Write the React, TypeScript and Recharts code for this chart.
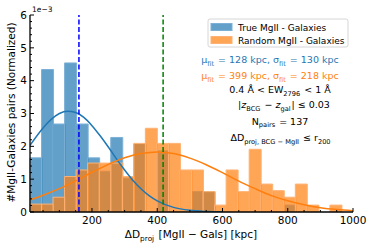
import React from 'react';
import { ComposedChart, Bar, Line, XAxis, YAxis, ReferenceLine } from 'recharts';

// bin centres in kpc (28 bins from 10 to 1000)
const binCenters = [
  27.7, 63.0, 98.4, 133.8, 169.1, 204.5, 239.8, 275.2, 310.6, 345.9, 381.3, 416.6, 452.0, 487.4,
  522.7, 558.1, 593.4, 628.8, 664.2, 699.5, 734.9, 770.2, 805.6, 841.0, 876.3, 911.7, 947.0, 982.4,
];
// normalized counts, in units of 1e-3
const trueCounts = [
  1.65, 4.34, 2.68, 4.54, 2.68, 1.65, 1.24, 2.27, 1.03, 2.07, 0, 1.86, 0, 0,
  0.62, 0.62, 0, 0, 0, 0, 0, 0, 0.21, 0, 0, 0, 0, 0,
];
const randomCounts = [
  0.24, 0.24, 0.45, 1.08, 1.28, 1.49, 1.49, 1.49, 1.08, 2.09, 2.55, 2.09, 2.09, 1.28,
  1.28, 0.62, 0.21, 1.28, 0.62, 1.91, 0.85, 0.65, 0.45, 0.85, 0.21, 0, 0.21, 0,
];

// gaussian fit curves
const trueFitX = [10, 50, 75, 100, 125, 150, 175, 200, 225, 250, 275, 300, 325, 350, 375, 400, 450, 500, 550, 600];
const trueFitY = [2.03, 2.56, 2.82, 3.0, 3.07, 3.03, 2.88, 2.63, 2.32, 1.98, 1.62, 1.28, 0.97, 0.71, 0.5, 0.34, 0.14, 0.05, 0.016, 0.004];
const randomFitX = [10, 50, 100, 150, 200, 250, 300, 350, 400, 450, 500, 550, 600, 650, 700, 750, 800, 850, 900, 950, 1000];
const randomFitY = [0.37, 0.51, 0.71, 0.95, 1.21, 1.45, 1.65, 1.78, 1.83, 1.78, 1.64, 1.44, 1.2, 0.94, 0.71, 0.5, 0.34, 0.22, 0.13, 0.075, 0.041];

const trueMedian = 160;
const randomMedian = 418;

const xTicks = Array.from({ length: 20 }, (_, i) => (i + 1) * 50);
const yTicks = Array.from({ length: 31 }, (_, i) => i / 5);

const bins = binCenters.map((c, i) => ({ c, blue: trueCounts[i], orange: randomCounts[i] }));
const trueFit = trueFitX.map((x, i) => ({ x, y: trueFitY[i] }));
const randomFit = randomFitX.map((x, i) => ({ x, y: randomFitY[i] }));

const FONT = 'DejaVu Sans';
const BLUE = '#1f77b4';
const ORANGE = '#ff7f0e';
const BLUE_EDGE = '#7cb0d6';
const ORANGE_EDGE = '#ffb273';
const PLOT_BOTTOM = 212;

const isMajorY = (v: number) => Math.abs(v - Math.round(v)) < 1e-6;

function BottomTick({ x, payload }: any) {
  const major = payload.value % 200 === 0;
  const y = PLOT_BOTTOM;
  return (
    <g>
      <line x1={x} x2={x} y1={y} y2={y - (major ? 4 : 2)} stroke="#000" />
      {major && (
        <text x={x} y={y + 11.5} textAnchor="middle" fontSize={10.5} fontFamily={FONT} fill="#000">
          {payload.value}
        </text>
      )}
    </g>
  );
}

function TopTick({ x, y, payload }: any) {
  const major = payload.value % 200 === 0;
  return <line x1={x} x2={x} y1={y} y2={y + (major ? 4 : 2)} stroke="#000" />;
}

function LeftTick({ x, y, payload }: any) {
  const major = isMajorY(payload.value);
  return (
    <g>
      <line x1={x} x2={x + (major ? 4 : 2)} y1={y} y2={y} stroke="#000" />
      {major && (
        <text x={x - 3} y={y + 3.8} textAnchor="end" fontSize={10.5} fontFamily={FONT} fill="#000">
          {Math.round(payload.value)}
        </text>
      )}
    </g>
  );
}

function RightTick({ x, y, payload }: any) {
  const major = isMajorY(payload.value);
  return <line x1={x} x2={x - (major ? 4 : 2)} y1={y} y2={y} stroke="#000" />;
}

function Sub({ children, size }: { children: string; size: number }) {
  return (
    <>
      <tspan dy={size * 0.3} fontSize={size * 0.7}>{children}</tspan>
      <tspan dy={-size * 0.3}>{'\u200a'}</tspan>
    </>
  );
}

function Overlay() {
  const fs = 9.5;
  return (
    <svg width={374} height={249} style={{ position: 'absolute', left: 0, top: 0, pointerEvents: 'none' }} fontFamily={FONT}>
      <text x={32} y={12} fontSize={7.5} fill="#000">1e−3</text>

      {/* frame on top of bars */}
      <line x1={30} x2={353} y1={PLOT_BOTTOM} y2={PLOT_BOTTOM} stroke="#000" strokeWidth={1.3} />

      {/* legend */}
      <rect x={208} y={19} width={140} height={28} rx={2} fill="#fff" fillOpacity={0.8} stroke="#d6d6d6" />
      <rect x={211} y={23.5} width={21} height={7} fill={BLUE} fillOpacity={0.7} stroke={BLUE_EDGE} />
      <rect x={211} y={36.5} width={21} height={7} fill={ORANGE} fillOpacity={0.7} stroke={ORANGE_EDGE} />
      <text x={238} y={30.5} fontSize={9} fill="#000">True MgII - Galaxies</text>
      <text x={238} y={43.5} fontSize={9} fill="#000">Random MgII - Galaxies</text>

      {/* annotations */}
      <text x={270} y={63} textAnchor="middle" fontSize={fs} fill={BLUE}>
        μ<Sub size={fs}>fit</Sub> = 128 kpc,  σ<Sub size={fs}>fit</Sub> = 130 kpc
      </text>
      <text x={270} y={79} textAnchor="middle" fontSize={fs} fill={ORANGE}>
        μ<Sub size={fs}>fit</Sub> = 399 kpc,  σ<Sub size={fs}>fit</Sub> = 218 kpc
      </text>
      <text x={280} y={93} textAnchor="middle" fontSize={fs} fill="#000">
        0.4 Å &lt; EW<Sub size={fs}>2796</Sub> &lt; 1 Å
      </text>
      <text x={284} y={108} textAnchor="middle" fontSize={fs} fill="#000">
        |<tspan fontStyle="italic">z</tspan><Sub size={fs}>BCG</Sub> − <tspan fontStyle="italic">z</tspan><Sub size={fs}>gal</Sub>| ≤ 0.03
      </text>
      <text x={280} y={124.5} textAnchor="middle" fontSize={fs} fill="#000">
        N<Sub size={fs}>pairs</Sub> = 137
      </text>
      <text x={281} y={141} textAnchor="middle" fontSize={fs} fill="#000">
        ΔD<Sub size={fs}>proj, BCG − MgII</Sub> ≤ r<Sub size={fs}>200</Sub>
      </text>

      {/* axis titles */}
      <text x={191} y={237.5} textAnchor="middle" fontSize={10.5} fill="#000">
        ΔD<Sub size={10.5}>proj</Sub> [MgII − Gals] [kpc]
      </text>
      <text transform="translate(14.5,112.5) rotate(-90)" textAnchor="middle" fontSize={10.5} fill="#000">
        #MgII-Galaxies pairs (Normalized)
      </text>
    </svg>
  );
}

export default function App() {
  return (
    <div style={{ position: 'absolute', left: 0, top: 0, width: 374, height: 249, background: '#fff' }}>
      <ComposedChart
        width={374}
        height={249}
        data={bins}
        margin={{ top: 15, right: 21, bottom: 0, left: 0 }}
        barCategoryGap={0}
        barGap={0}
      >
        <XAxis
          xAxisId="num"
          dataKey="x"
          type="number"
          domain={[10, 1000]}
          allowDataOverflow
          ticks={xTicks}
          interval={0}
          height={37}
          tickSize={0}
          tickMargin={0}
          tickLine={false}
          axisLine={false}
          tick={<BottomTick />}
        />
        <XAxis xAxisId="b1" dataKey="c" type="category" hide height={0} />
        <XAxis xAxisId="b2" dataKey="c" type="category" hide height={0} />
        <XAxis
          xAxisId="top"
          orientation="top"
          type="number"
          domain={[10, 1000]}
          allowDataOverflow
          ticks={xTicks}
          interval={0}
          height={0}
          tickSize={0}
          tickMargin={0}
          tickLine={false}
          axisLine={{ stroke: '#000', strokeWidth: 1.3 }}
          tick={<TopTick />}
        />
        <YAxis
          yAxisId="left"
          type="number"
          domain={[0, 6]}
          allowDataOverflow
          ticks={yTicks}
          interval={0}
          width={30}
          tickSize={0}
          tickMargin={0}
          tickLine={false}
          axisLine={{ stroke: '#000', strokeWidth: 1.3 }}
          tick={<LeftTick />}
        />
        <YAxis
          yAxisId="right"
          orientation="right"
          type="number"
          domain={[0, 6]}
          allowDataOverflow
          ticks={yTicks}
          interval={0}
          width={0}
          tickSize={0}
          tickMargin={0}
          tickLine={false}
          axisLine={{ stroke: '#000', strokeWidth: 1.3 }}
          tick={<RightTick />}
        />

        <Bar xAxisId="b1" yAxisId="left" dataKey="blue" fill={BLUE} fillOpacity={0.7} stroke={BLUE_EDGE} strokeWidth={1} isAnimationActive={false} />
        <Bar xAxisId="b2" yAxisId="left" dataKey="orange" fill={ORANGE} fillOpacity={0.7} stroke={ORANGE_EDGE} strokeWidth={1} isAnimationActive={false} />

        <Line xAxisId="num" yAxisId="left" data={trueFit} dataKey="y" type="monotone" stroke={BLUE} strokeWidth={1.5} dot={false} isAnimationActive={false} />
        <Line xAxisId="num" yAxisId="left" data={randomFit} dataKey="y" type="monotone" stroke={ORANGE} strokeWidth={1.5} dot={false} isAnimationActive={false} />

        <ReferenceLine xAxisId="num" yAxisId="left" x={trueMedian} stroke="#0000ff" strokeWidth={1.5} strokeDasharray="5 2.5" />
        <ReferenceLine xAxisId="num" yAxisId="left" x={randomMedian} stroke="#008000" strokeWidth={1.5} strokeDasharray="5 2.5" />
      </ComposedChart>
      <Overlay />
    </div>
  );
}
